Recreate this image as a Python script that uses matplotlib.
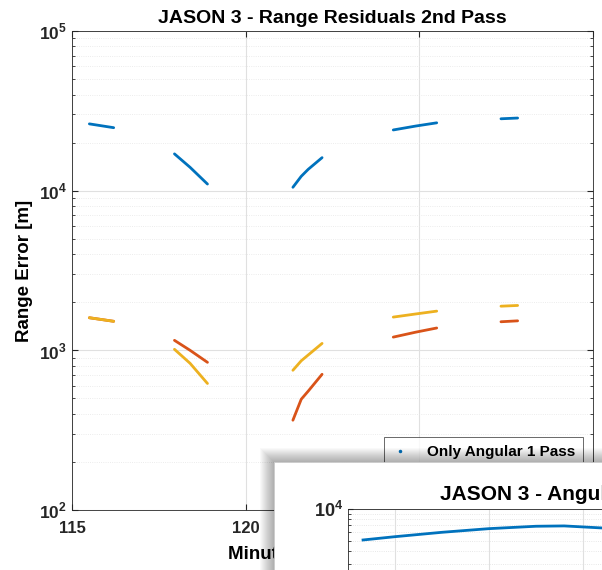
import numpy as np
import matplotlib
matplotlib.use('Agg')
import matplotlib.pyplot as plt
from matplotlib.lines import Line2D
from matplotlib.patches import Rectangle

plt.rcParams['font.family'] = ['Liberation Sans', 'DejaVu Sans']
plt.rcParams['font.weight'] = 'bold'
plt.rcParams['mathtext.fontset'] = 'custom'
plt.rcParams['mathtext.rm'] = 'Liberation Sans:bold'
plt.rcParams['mathtext.bf'] = 'Liberation Sans:bold'

nan = np.nan
# minutes, segments separated by nan
t = [115.5, 116.2, nan, 117.95, 118.4, 118.9, nan, 121.36, 121.6, 121.8, 122.2, nan,
     124.25, 124.9, 125.5, nan, 127.35, 127.83]
# range error [m]
err_angular = [26200, 24800, nan, 17000, 14000, 11000, nan, 10500, 12300, 13600, 16100, nan,
               24000, 25400, 26600, nan, 28200, 28500]
err_orange = [1600, 1520, nan, 1155, 1000, 841, nan, 365, 494, 555, 708, nan,
              1210, 1300, 1380, nan, 1510, 1530]
err_yellow = [1600, 1520, nan, 1015, 829, 620, nan, 750, 860, 935, 1105, nan,
              1615, 1690, 1760, nan, 1890, 1910]
labels = ['Only Angular 1 Pass', 'Angular + Range 1', 'Angular + Range 2']

# second window (angular residuals), partly visible
t_ang = [6.6, 10, 15, 20, 25, 28, 32, 35]
err_ang = [5070, 5450, 6000, 6500, 6850, 6900, 6600, 6300]

colors = ['#0072BD', '#D95319', '#EDB120']
W, H = 602, 570

fig = plt.figure(figsize=(6.02, 5.70), dpi=100)
ax = fig.add_axes([72 / W, 1 - 510 / H, (593 - 72) / W, (510 - 31) / H])

for y, c in zip([err_angular, err_orange, err_yellow], colors):
    ax.plot(t, y, color=c, lw=2.0, solid_capstyle='round', solid_joinstyle='round')

ax.set_yscale('log')
ax.set_xlim(115, 130)
ax.set_ylim(1e2, 1e5)
ax.set_xticks([115, 120, 125, 130])
ax.set_yticks([1e2, 1e3, 1e4, 1e5])
ax.set_yticklabels([r'$10^{%d}$' % k for k in [2, 3, 4, 5]])
ax.tick_params(which='both', direction='in', top=True, right=True,
               colors='#262626', labelsize=12.5)
ax.tick_params(axis='x', labelsize=12, pad=8)
ax.tick_params(which='major', length=4)
ax.tick_params(which='minor', length=2.5)
for s in ax.spines.values():
    s.set_color('#262626')
    s.set_linewidth(0.6)
ax.grid(True, which='major', color='#e0e0e0', lw=0.8)
ax.grid(True, which='minor', color='#e6e6e6', lw=0.6, ls=':')
ax.set_axisbelow(True)
ax.set_title('JASON 3 - Range Residuals 2nd Pass', fontsize=14, fontweight='bold', pad=6)
ax.set_ylabel('Range Error [m]', fontsize=13.5, fontweight='bold', labelpad=4)
ax.set_xlabel('Minutes past the Epoch', fontsize=13.5, fontweight='bold', labelpad=7)

handles = [Line2D([], [], ls='none', marker='.', markersize=3, color=c) for c in colors]
leg = ax.legend(handles, labels, loc='lower right', bbox_to_anchor=(0.981, 0.0),
                fontsize=11, frameon=True, fancybox=False, edgecolor='#262626',
                handlelength=1.0, handletextpad=1.3, borderpad=0.5,
                borderaxespad=0.0, labelspacing=0.5)
leg.get_frame().set_linewidth(0.6)

# overlapping window with shadow
ov = fig.add_axes([0, 0, 1, 1])
ov.set_xlim(0, W)
ov.set_ylim(H, 0)
ov.axis('off')
ov.patch.set_alpha(0)
x0, y0 = 274, 462
for k in range(14, 0, -1):
    ov.add_patch(Rectangle((x0 - k, y0 - k), W, H, color='black', alpha=0.025, lw=0))
ov.add_patch(Rectangle((x0, y0), W, H, facecolor='white', edgecolor='#cccccc', lw=0.6))
ov.text(440, 495, 'JASON 3 - Angular Residuals 1st Pass', fontsize=15,
        fontweight='bold', va='center', ha='left', clip_on=True)

ins_top = 509
ins = fig.add_axes([348 / W, -0.5, 1, 0.5 + (H - ins_top) / H])
ins.plot(t_ang, err_ang, color=colors[0], lw=2.0)
ins.set_yscale('log')
ins.set_ylim(10 ** (4 - 346 / 105), 1e4)
ins.set_xlim(5, 5 + 602 / 9.4)
ins.set_xticks([10, 20, 30, 40])
ins.set_xticklabels([])
ins.set_yticks([1e4])
ins.set_yticklabels([r'$10^{4}$'])
ins.tick_params(which='both', direction='in', colors='#262626', labelsize=13)
ins.tick_params(which='minor', length=2.5, labelleft=False)
for s in ins.spines.values():
    s.set_color('#262626')
    s.set_linewidth(0.6)
ins.grid(True, which='major', color='#e0e0e0', lw=0.8)
ins.grid(True, which='minor', color='#e0e0e0', lw=0.6, ls=':')
ins.set_axisbelow(True)

fig.savefig('out.png', dpi=100)
